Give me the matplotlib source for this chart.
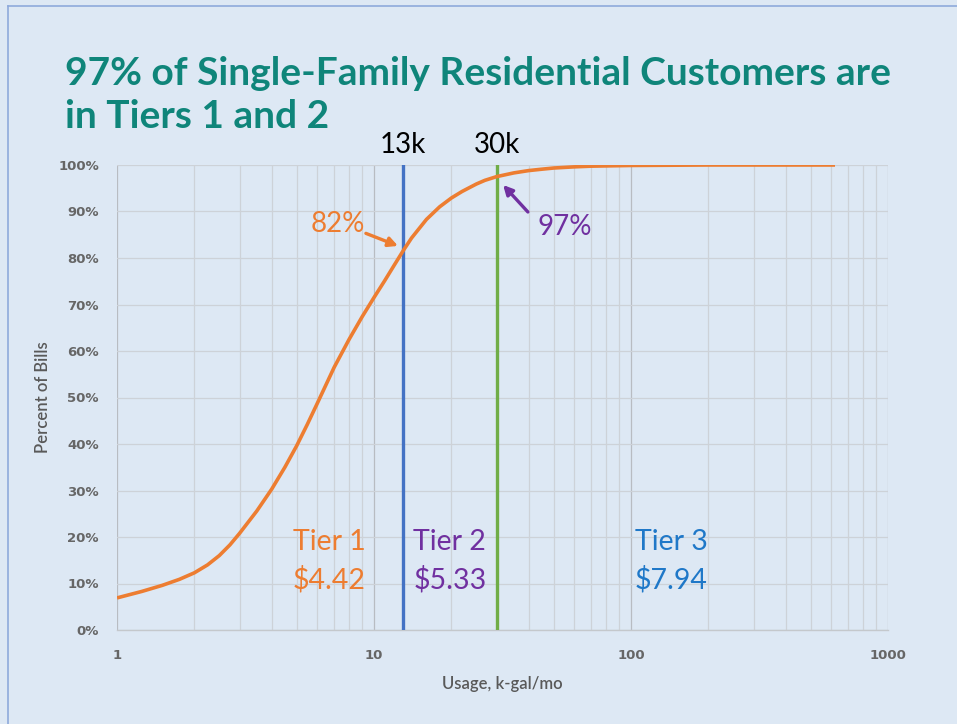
import matplotlib
matplotlib.use("Agg")
import matplotlib.pyplot as plt
from matplotlib.ticker import FixedLocator, NullFormatter, FuncFormatter
from matplotlib.lines import Line2D

plt.rcParams['font.family'] = ['Lato', 'DejaVu Sans']

# ---- data ----
usage = [1, 1.25, 1.5, 1.75, 2, 2.25, 2.5, 2.75, 3, 3.5, 4, 4.5, 5, 5.5, 6, 7, 8, 9, 10,
         11, 12, 13, 14, 16, 18, 20, 22, 25, 27, 30, 35, 40, 45, 50, 60, 70, 100, 200, 622]
pct_bills = [6.9, 8.3, 9.6, 10.9, 12.3, 14.0, 16.0, 18.3, 20.8, 25.6, 30.3, 35.0, 39.6, 44.2,
             48.6, 56.5, 62.5, 67.4, 71.5, 75.1, 78.5, 81.6, 84.3, 88.3, 91.0, 92.9, 94.3,
             95.9, 96.7, 97.5, 98.3, 98.8, 99.1, 99.35, 99.6, 99.75, 99.9, 100.0, 100.0]
tier_breaks = [13, 30]
break_labels = ["13k", "30k"]
break_pcts = [82, 97]
tier_names = ["Tier 1", "Tier 2", "Tier 3"]
tier_prices = ["$4.42", "$5.33", "$7.94"]
tier_label_x = [4.84, 14.2, 103.7]
x_ticks = [1, 10, 100, 1000]
y_ticks = [0, 10, 20, 30, 40, 50, 60, 70, 80, 90, 100]

BG = '#dde8f4'
ORANGE = '#ed7d31'
BLUE = '#4472c4'
GREEN = '#70ad47'
PURPLE = '#7030a0'
TIER3 = '#1f78c8'
TEAL = '#0f857a'
GRAYTXT = '#595959'

W, H = 957, 724
fig = plt.figure(figsize=(W / 100, H / 100), dpi=100, facecolor=BG)
ax = fig.add_axes([117 / W, 1 - 630 / H, (888 - 117) / W, (630 - 165) / H], facecolor=BG)

ax.set_xscale('log')
ax.set_xlim(1, 1000)
ax.set_ylim(0, 100)

# grid
ax.xaxis.set_major_locator(FixedLocator(x_ticks))
minors = [m * 10 ** d for d in range(3) for m in range(2, 10)]
ax.xaxis.set_minor_locator(FixedLocator(minors))
ax.xaxis.set_minor_formatter(NullFormatter())
ax.xaxis.set_major_formatter(FuncFormatter(lambda v, p: f"{int(v)}"))
ax.yaxis.set_major_locator(FixedLocator(y_ticks))
ax.yaxis.set_major_formatter(FuncFormatter(lambda v, p: f"{int(v)}%"))
ax.grid(True, which='major', axis='x', color='#b8bcc2', lw=0.9)
ax.grid(True, which='minor', axis='x', color='#cdd2d8', lw=0.9)
ax.grid(True, which='major', axis='y', color='#cdd2d8', lw=0.9)
ax.set_axisbelow(True)
for s in ['top', 'right', 'left']:
    ax.spines[s].set_visible(False)
ax.spines['bottom'].set_color('#c4c8cc')
ax.spines['bottom'].set_linewidth(1.0)
ax.tick_params(axis='both', which='both', length=0, colors='#666666', labelsize=9.5)
ax.tick_params(axis='x', which='major', pad=14)
ax.tick_params(axis='y', which='major', pad=13)
for lab in ax.get_yticklabels() + ax.get_xticklabels():
    lab.set_fontfamily('DejaVu Sans')
    lab.set_fontweight('bold')

ax.set_xlabel("Usage, k-gal/mo", color=GRAYTXT, fontsize=12, fontweight='semibold', labelpad=10)
ax.set_ylabel("Percent of Bills", color=GRAYTXT, fontsize=12, fontweight='semibold', labelpad=5)

# vertical tier-break lines
ax.axvline(tier_breaks[0], color=BLUE, lw=2.4, zorder=3)
ax.axvline(tier_breaks[1], color=GREEN, lw=2.4, zorder=3)

# curve
ax.plot(usage, pct_bills, color=ORANGE, lw=2.6, zorder=4, solid_capstyle='butt',
        solid_joinstyle='round')

# break labels
for xb, lb in zip(tier_breaks, break_labels):
    ax.text(xb, 104.3, lb, ha='center', va='center', fontsize=20, color='black', clip_on=False)

# percent annotations
ax.text(7.24, 87.3, f"{break_pcts[0]}%", ha='center', va='center', fontsize=20, color=ORANGE)
ax.annotate("", xy=(12.4, 82.6), xytext=(9.3, 85.3),
            arrowprops=dict(arrowstyle='-|>,head_length=0.55,head_width=0.28', color=ORANGE,
                            lw=2.4, shrinkA=0, shrinkB=0))
ax.text(55.3, 86.7, f"{break_pcts[1]}%", ha='center', va='center', fontsize=20, color=PURPLE)
ax.annotate("", xy=(31.8, 95.7), xytext=(39.7, 89.9),
            arrowprops=dict(arrowstyle='-|>,head_length=0.55,head_width=0.28', color=PURPLE,
                            lw=2.4, shrinkA=0, shrinkB=0))

# tier labels
tier_colors = [ORANGE, PURPLE, TIER3]
for xl, nm, pr, c in zip(tier_label_x, tier_names, tier_prices, tier_colors):
    ax.text(xl, 18.9, nm, ha='left', va='center', fontsize=20.5, color=c)
    ax.text(xl, 10.9, pr, ha='left', va='center', fontsize=20.5, color=c)

# title
fig.text(65 / W, 1 - 56 / H, "97% of Single-Family Residential Customers are\nin Tiers 1 and 2",
         ha='left', va='top', fontsize=28, fontweight='bold', color=TEAL, linespacing=1.28)

# slide border (top and left)
fig.add_artist(Line2D([8 / W, 1], [1 - 6 / H, 1 - 6 / H], transform=fig.transFigure,
                      color='#8eaadb', lw=1.2))
fig.add_artist(Line2D([8 / W, 8 / W], [0, 1 - 6 / H], transform=fig.transFigure,
                      color='#8eaadb', lw=1.2))

fig.savefig('out.png', dpi=100, facecolor=BG)
